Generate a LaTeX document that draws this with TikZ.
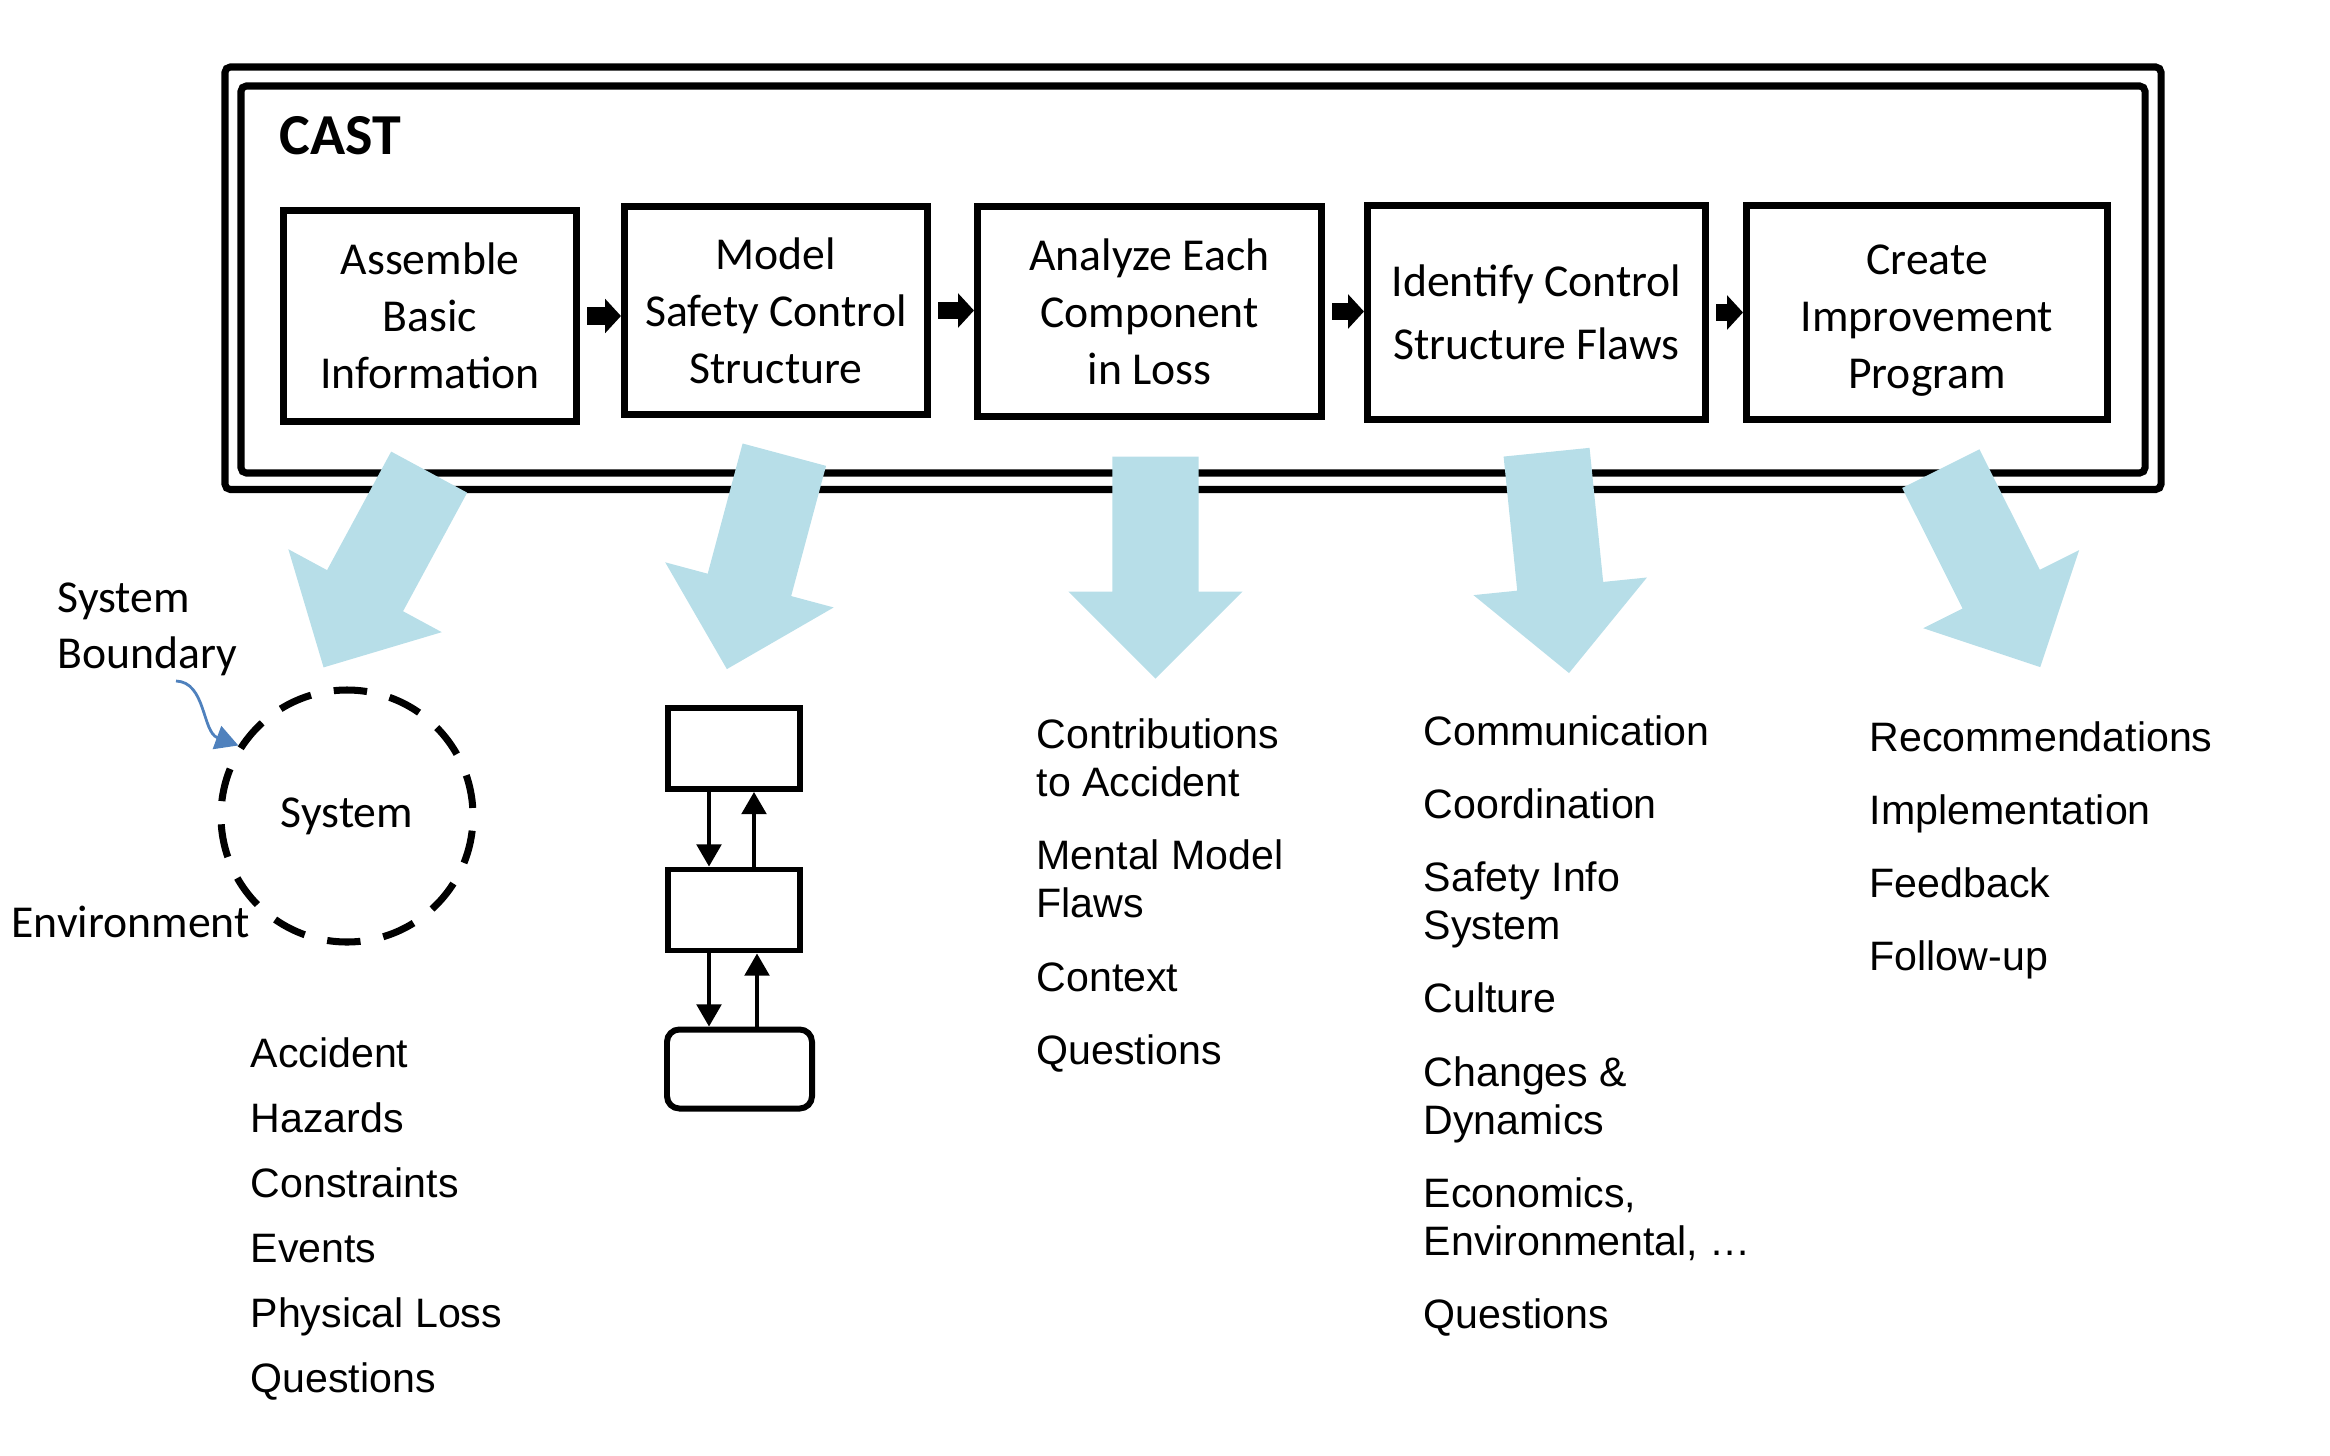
\documentclass[tikz,border=0pt]{standalone}
\usepackage{fontspec}
\setmainfont{Carlito}
\newfontfamily\listfont{Liberation Sans}
\usetikzlibrary{arrows.meta,shapes.arrows}
\definecolor{castblue}{RGB}{183,222,232}
\definecolor{pointerblue}{RGB}{79,129,189}

\begin{document}
\begin{tikzpicture}[
    stepbox/.style={draw, line width=2pt, align=center, inner sep=0pt, font=\fontsize{13pt}{16.2pt}\selectfont},
    steparrow/.style={line width=5pt, -{Triangle[length=4.5pt,width=9.5pt]}, shorten <=2pt},
    bigarrow/.style={single arrow, fill=castblue, inner xsep=0pt, inner ysep=0.425cm, single arrow head extend=0.44cm, minimum height=2.22cm, anchor=tail},
    itemlist/.style={anchor=north west, inner sep=0pt, align=left, font=\listfont\fontsize{11.7pt}{13.7pt}\selectfont},
    csbox/.style={draw, line width=1.7pt, minimum width=1.32cm, minimum height=0.81cm},
    csarrow/.style={line width=1pt, -{Triangle[length=6.3pt,width=7pt]}}
  ]
    \useasboundingbox (0,0) rectangle (23.30,-14.55);

    % double frame
    \draw[line width=2pt, rounded corners=1.5pt] (2.25,-0.67) rectangle (21.61,-4.895);
    \draw[line width=2pt, rounded corners=1.5pt] (2.41,-0.86) rectangle (21.45,-4.73);
    \node[anchor=west, inner sep=0pt, font=\bfseries\fontsize{16.5pt}{20pt}\selectfont] (cast) at (2.79,-1.36) {CAST};

    % the five steps
    \node[stepbox, minimum width=2.93cm, minimum height=2.11cm] (assemble) at (4.30,-3.16) {Assemble\\Basic\\Information};
    \node[stepbox, minimum width=3.03cm, minimum height=2.08cm] (model) at (7.76,-3.105) {Model\\Safety Control\\Structure};
    \node[stepbox, minimum width=3.44cm, minimum height=2.10cm] (analyze) at (11.495,-3.115) {Analyze Each\\Component\\in Loss};
    \node[stepbox, minimum width=3.38cm, minimum height=2.14cm, font=\fontsize{13pt}{18pt}\selectfont] (identify) at (15.365,-3.125) {Identify Control\\Structure Flaws};
    \node[stepbox, minimum width=3.61cm, minimum height=2.14cm] (create) at (19.27,-3.125) {\rule{0pt}{12.8pt}Create\\Improvement\\Program};
    \foreach \a/\b in {assemble/model, model/analyze, analyze/identify, identify/create}
      \draw[steparrow] (\a.east) -- (\a.east -| \b.west);

    % outputs of each step
    \node[bigarrow, rotate=-118.4] (out1) at (4.295,-4.715) {};
    \node[bigarrow, rotate=-105] (out2) at (7.845,-4.54) {};
    \node[bigarrow, rotate=-90] (out3) at (11.555,-4.56) {};
    \node[bigarrow, rotate=-84.2] (out4) at (15.465,-4.515) {};
    \node[bigarrow, rotate=-63.4] (out5) at (19.405,-4.68) {};

    % system and its boundary
    \node[circle, draw, line width=2pt, minimum size=2.52cm, dash pattern=on 9.5pt off 6.6pt, dash phase=13.8pt, font=\fontsize{13pt}{16pt}\selectfont] (sys) at (3.47,-8.16) {System};
    \node[anchor=north west, inner sep=0pt, align=left, font=\fontsize{13pt}{16pt}\selectfont] (bound) at (0.57,-5.82) {System\\Boundary};
    \node[anchor=north west, inner sep=0pt, font=\fontsize{13pt}{16pt}\selectfont] (env) at (0.11,-9.05) {Environment};
    \coordinate (boundfrom) at (1.76,-6.81);
    \draw[pointerblue, line width=0.8pt, -{Triangle[length=6.5pt,width=6.9pt]}] (boundfrom) .. controls (2.06,-6.82) and (2.02,-7.32) .. (sys.147);

    % control structure
    \node[csbox] (ctrlA) at (7.34,-7.485) {};
    \node[csbox] (ctrlB) at (7.34,-9.10) {};
    \node[csbox, rounded corners=3.5pt, minimum width=1.45cm, minimum height=0.79cm] (ctrlC) at (7.395,-10.69) {};
    \draw[csarrow] ([xshift=-0.25cm]ctrlA.south) -- ([xshift=-0.25cm]ctrlB.north);
    \draw[csarrow] ([xshift=0.20cm]ctrlB.north) -- ([xshift=0.20cm]ctrlA.south);
    \draw[csarrow] ([xshift=-0.25cm]ctrlB.south) -- ([xshift=-0.25cm]ctrlB.south |- ctrlC.north);
    \draw[csarrow] ([xshift=0.23cm]ctrlB.south |- ctrlC.north) -- ([xshift=0.23cm]ctrlB.south);

    % lists
    \node[itemlist, font=\listfont\fontsize{11.7pt}{18.5pt}\selectfont] (basics) at (2.50,-10.37) {Accident\\Hazards\\Constraints\\Events\\Physical Loss\\Questions};
    \node[itemlist] (contrib) at (10.36,-7.18) {Contributions\\to Accident\\[7.1pt]Mental Model\\Flaws\\[7.1pt]Context\\[7.1pt]Questions};
    \node[itemlist] (flaws) at (14.23,-7.15) {Communication\\[7.1pt]Coordination\\[7.1pt]Safety Info\\System\\[7.1pt]Culture\\[7.1pt]Changes \&\\Dynamics\\[7.1pt]Economics,\\Environmental, …\\[7.1pt]Questions};
    \node[itemlist] (recs) at (18.69,-7.21) {Recommendations\\[7.1pt]Implementation\\[7.1pt]Feedback\\[7.1pt]Follow-up};
  \end{tikzpicture}
\end{document}
